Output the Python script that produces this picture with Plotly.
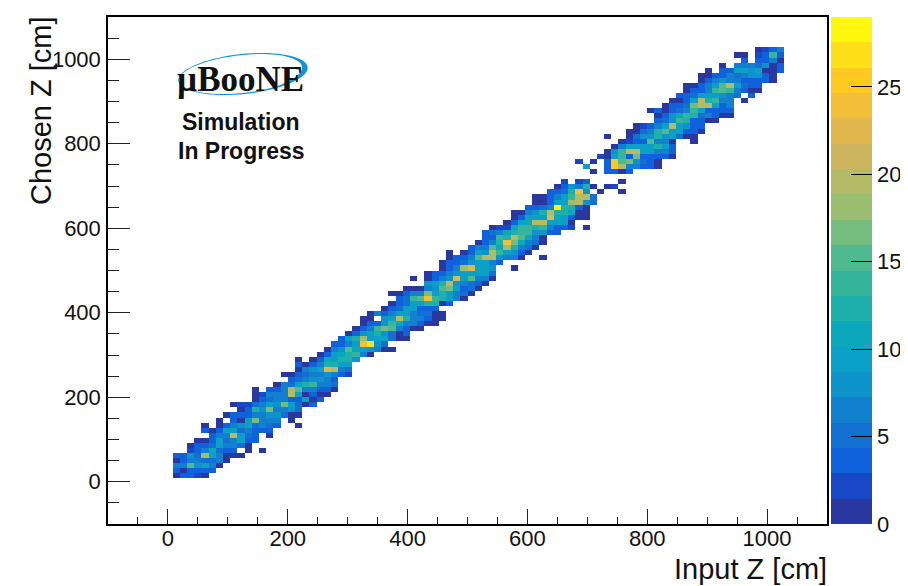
import math
import plotly.graph_objects as go

# Histogram binning
N_BINS = 100
AXIS_MIN, AXIS_MAX = -100, 1100
Z_MAX = 29

# Colour levels of the palette, bottom to top
LEVEL_COLORS = ["#2a379e","#1848c6","#0f62dc","#1270d2","#1380cf","#0f93cb","#0aa0c8",
                "#0ba8bc","#1fb0ac","#35b69c","#4fba90","#74bd7e","#9bbe70","#b3bb66",
                "#ccb55c","#e0b74c","#f3bf38","#ffc922","#fde01a","#fdf80e"]

# Each row: chosen-Z bin, first input-Z bin, counts
ROWS = [
(9,9,[1,3,3,2,1]),
(10,9,[4,1,3,3,4,3]),
(11,9,[6,6,15,8,10,7,1]),
(12,9,[1,4,6,6,5,5,7,1]),
(13,9,[3,3,8,5,18,10,7,1,1,1]),
(14,11,[2,4,6,11,5,4,4,0,1,0,1]),
(15,11,[1,3,3,5,9,6,6,5,1]),
(16,12,[1,1,4,9,5,6,9,4,3]),
(17,14,[3,6,6,19,10,5,4,0,1]),
(18,13,[3,1,3,9,9,5,7,4,3,3]),
(19,13,[1,0,1,3,7,8,9,5,6,5,4,0,0,1]),
(20,15,[1,0,3,1,10,16,6,6,6,0,1]),
(21,16,[1,3,3,4,6,7,8,8,5,1,1]),
(22,18,[1,3,12,8,16,7,6,8,5]),
(23,17,[1,2,2,5,7,10,8,17,9,5,1,3]),
(24,20,[1,3,5,7,7,4,4,9,1,3]),
(25,20,[1,2,6,6,6,19,10,1,3,1,1]),
(26,20,[1,0,3,3,7,19,15,7,6,3,3,1]),
(27,23,[1,7,5,9,13,14,7,7,5]),
(28,25,[3,5,7,8,8,7,4]),
(29,24,[1,1,3,5,6,7,8,7,4,2]),
(30,26,[1,7,8,9,22,19,7,5]),
(31,26,[3,1,4,7,12,13,9,10]),
(32,26,[1,0,1,3,11,9,12,13,8]),
(33,29,[1,3,10,11,13,14,6,1]),
(34,30,[1,7,8,15,11,10,8,6,1,1]),
(35,31,[3,4,7,9,24,27,8,5]),
(36,32,[4,9,13,18,10,9,9,5,1,1]),
(37,33,[1,4,8,10,12,8,5,1,3]),
(38,34,[1,3,6,14,17,15,7,4,1,1]),
(39,35,[1,3,3,8,14,11,6,6,3,1,1]),
(40,35,[1,1,0,8,9,20,12,6,6,3,1,1]),
(41,36,[1,6,4,7,10,10,7,5,5,1,1]),
(42,38,[1,3,5,9,9,3,4,3]),
(43,39,[1,3,5,9,10,12,13,1,3]),
(44,40,[3,5,14,15,24,14,13,9,6,1]),
(45,39,[1,1,3,7,7,16,9,12,10,7,5,1]),
(46,41,[1,1,1,7,8,15,17,9,4,5,1]),
(47,44,[8,9,13,19,8,6,5,3,1]),
(48,42,[1,0,1,4,7,8,22,10,15,6,6,1]),
(49,44,[1,3,3,6,8,9,10,10,9,5]),
(50,46,[1,3,7,18,22,10,10,8,0,0,1]),
(51,46,[1,3,3,5,8,9,9,6,3]),
(52,47,[1,3,3,6,15,19,20,8,6,7,1,0,0,1]),
(53,47,[1,0,1,3,9,8,20,14,10,8,4,1]),
(54,50,[3,7,7,15,11,18,12,7,5,1]),
(55,51,[1,4,7,13,24,17,11,7,5,1]),
(56,52,[3,3,14,13,20,15,11,6,1]),
(57,52,[3,5,7,11,12,14,14,8,8,4,3]),
(58,53,[1,2,2,11,14,14,13,14,7,3,3,2,0,1]),
(59,55,[1,3,9,11,19,20,10,9,9,1]),
(60,56,[1,3,9,9,9,23,11,10,3,1,1]),
(61,56,[1,1,6,8,13,19,13,13,11,1,1]),
(62,58,[3,3,5,6,29,13,13,4,1]),
(63,59,[1,1,3,9,9,18,19,8,5]),
(64,59,[1,1,4,7,9,14,19,20,5]),
(65,61,[3,3,5,13,24,8,0,1,0,0,1]),
(66,62,[1,3,8,6,13,1,0,1,2]),
(67,63,[2,0,2,3,0,0,0,0,1]),
(69,67,[1,0,3,3,1,3]),
(70,66,[9,0,0,3,25,19,7,6,3,3,1]),
(71,65,[2,0,1,0,3,25,15,16,8,5,3,1]),
(72,68,[2,1,9,14,3,16,4,4,3,3,1]),
(73,69,[1,8,14,20,20,9,9,7,7,3]),
(74,70,[1,6,9,10,10,10,13,9,4]),
(75,71,[1,2,3,4,15,6,6,1,0,0,1]),
(76,69,[1,0,0,1,5,8,8,13,8,10,5,1,1]),
(77,72,[1,1,5,6,12,15,9,9,3,3,1]),
(78,73,[1,2,3,6,9,20,9,8,3,3]),
(79,76,[4,5,8,14,12,4,3,1,1]),
(80,76,[1,4,8,11,14,13,5,6,3,1,1]),
(81,75,[1,3,1,3,5,7,14,9,3,3,3,3]),
(82,77,[1,3,3,5,17,20,19,10,3,7]),
(83,78,[1,1,3,9,19,12,14,6,6,0,1]),
(84,79,[3,3,5,9,9,9,8,7,5,0,3]),
(85,80,[1,3,4,7,14,15,14,7,4,1,1]),
(86,80,[1,1,3,6,9,15,20,10,5,3,3]),
(87,82,[1,3,7,8,6,6,4,3,3,3,1]),
(88,82,[1,1,3,3,6,5,7,8,8,3,1]),
(89,83,[1,0,3,3,9,9,8,9,1,1,3]),
(90,85,[1,0,6,6,6,5,8,1,3]),
(91,88,[3,0,3,3,7,1]),
(92,87,[1,1,0,2,4,14,3]),
(93,90,[1,2,4,6]),
]

colorscale = []
n_lev = len(LEVEL_COLORS)
for lev, col in enumerate(LEVEL_COLORS):
    colorscale += [[lev/n_lev, col], [(lev+1)/n_lev, col]]

width = (AXIS_MAX-AXIS_MIN)/N_BINS
centers = [AXIS_MIN+width*(k+0.5) for k in range(N_BINS)]
z = [[None]*N_BINS for _ in range(N_BINS)]
for row, first, counts in ROWS:
    for k, v in enumerate(counts):
        if v:
            z[row][first+k] = v

# The page body adds an 8 px margin round the figure
PAGE_PAD = 8
W, H = 908-PAGE_PAD, 586-PAGE_PAD
L, R, T, B = 108, 827, 17, 524
def px(x): return (x-L)/(R-L)
def py(y): return (B-y)/(B-T)

TICK_FONT = dict(family="Liberation Sans", size=22, color="#111")

fig = go.Figure(go.Heatmap(
    x=centers, y=centers, z=z, zmin=0, zmax=Z_MAX, colorscale=colorscale,
    hoverongaps=False,
    colorbar=dict(x=px(830.5), xanchor="left", xpad=0, y=0.5, yanchor="middle", ypad=0,
                  len=1, lenmode="fraction", thickness=41, thicknessmode="pixels",
                  outlinewidth=0, tickmode="array", tickvals=[0,5,10,15,20,25],
                  ticks="inside", ticklen=21, tickwidth=1, tickcolor="black",
                  tickfont=TICK_FONT)))

def swoosh():
    cx, cy, rx, ry, tilt = 243, 74, 65, 20, math.radians(-6)
    pts = []
    def pt(a, rrx, rry):
        ex, ey = rrx*math.cos(a), rry*math.sin(a)
        return (cx+ex*math.cos(tilt)-ey*math.sin(tilt), cy+ex*math.sin(tilt)+ey*math.cos(tilt))
    steps = 72
    for k in range(steps+1):
        pts.append(pt(2*math.pi*k/steps, rx, ry))
    for k in range(steps, -1, -1):
        a = 2*math.pi*k/steps
        thick = 0.7+5.0*max(0, math.cos(a-0.15))**3
        pts.append(pt(a, rx-thick, ry-0.7-0.55*thick))
    return "M "+" L ".join("%.5f,%.5f" % (px(x), py(y)) for x, y in pts)+" Z"

AXIS = dict(range=[AXIS_MIN, AXIS_MAX], tick0=0, dtick=200, ticks="inside",
            tickwidth=1, tickcolor="#222", showgrid=False, zeroline=False, showline=True,
            linecolor="black", linewidth=1.5, mirror=True, tickfont=TICK_FONT)

fig.update_layout(
    width=W, height=H, autosize=False,
    margin=dict(l=L-PAGE_PAD, r=W-(R-PAGE_PAD), t=T-PAGE_PAD, b=H-(B-PAGE_PAD), pad=0, autoexpand=False),
    paper_bgcolor="white", plot_bgcolor="white",
    font=dict(family="Liberation Sans", color="#111"),
    xaxis=dict(AXIS, ticklen=15, ticklabelstandoff=-6,
               minor=dict(dtick=50, tick0=0, ticks="inside", ticklen=7, tickwidth=1, tickcolor="#222")),
    yaxis=dict(AXIS, ticklen=22, ticklabelstandoff=1,
               minor=dict(dtick=50, tick0=0, ticks="inside", ticklen=11, tickwidth=1, tickcolor="#222")),
    shapes=[
        dict(type="path", xref="paper", yref="paper", path=swoosh(),
             fillcolor="#1295d8", line=dict(width=0), layer="above"),
        dict(type="line", xref="paper", yref="paper", x0=px(871), x1=px(871), y0=0, y1=1,
             line=dict(color="black", width=1)),
    ],
    annotations=[
        dict(text="µBooNE", xref="paper", yref="paper", x=px(240), y=py(80), showarrow=False,
             xanchor="center", yanchor="middle",
             font=dict(family="Liberation Serif", size=35, color="#111", weight="bold")),
        dict(text="Simulation", xref="paper", yref="paper", x=px(241), y=py(122), showarrow=False,
             xanchor="center", yanchor="middle",
             font=dict(family="Liberation Sans", size=23, color="#111", weight="bold")),
        dict(text="In Progress", xref="paper", yref="paper", x=px(241), y=py(151), showarrow=False,
             xanchor="center", yanchor="middle",
             font=dict(family="Liberation Sans", size=23, color="#111", weight="bold")),
        dict(text="Input Z [cm]", xref="paper", yref="paper", x=1, y=py(569), showarrow=False,
             xanchor="right", yanchor="middle", xshift=2,
             font=dict(family="Liberation Sans", size=29, color="#111")),
        dict(text="Chosen Z [cm]", xref="paper", yref="paper", x=px(41), y=py(111), showarrow=False,
             xanchor="center", yanchor="middle", textangle=-90,
             font=dict(family="Liberation Sans", size=29, color="#111")),
    ],
)
fig.write_html("out.html")
